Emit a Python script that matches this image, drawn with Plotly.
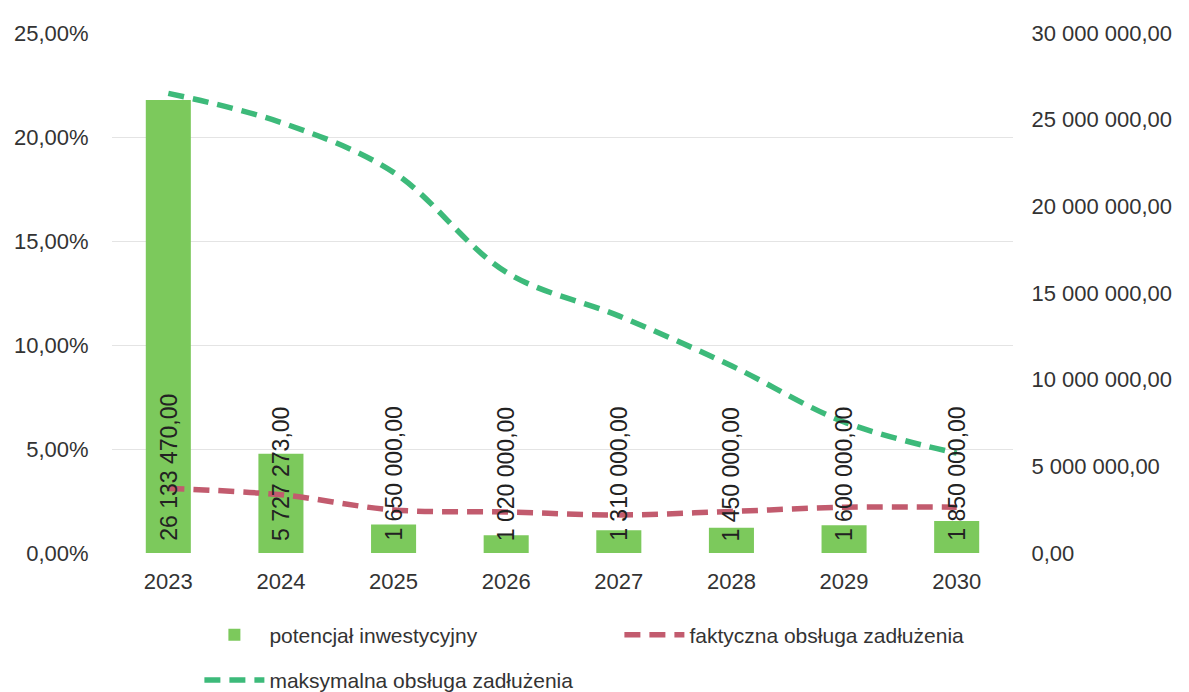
import plotly.graph_objects as go

years = ["2023", "2024", "2025", "2026", "2027", "2028", "2029", "2030"]
potencjal = [26133470, 5727273, 1650000, 1020000, 1310000, 1450000, 1600000, 1850000]
faktyczna = [0.031, 0.028, 0.0207, 0.0197, 0.0183, 0.020, 0.022, 0.022]
maksymalna = [0.221, 0.207, 0.183, 0.135, 0.114, 0.090, 0.063, 0.048]

BAR_C = "#7cc95c"
GREEN_C = "#3dba7a"
RED_C = "#c25b6e"
FONT = "Liberation Sans, Arial, sans-serif"
TXT = "#333333"


def fmt_pl(v):
    return f"{v:,.2f}".replace(",", " ").replace(".", ",")


fig = go.Figure()
fig.add_trace(go.Bar(
    x=years, y=potencjal, name="potencjał inwestycyjny",
    marker=dict(color=BAR_C, line=dict(width=0)), width=0.4, yaxis="y",
    legend="legend",
))
fig.add_trace(go.Scatter(
    x=years, y=faktyczna, name="faktyczna obsługa zadłużenia", mode="lines",
    line=dict(color=RED_C, width=5.5, dash="16px,9px", shape="spline"), yaxis="y2",
    legend="legend",
))
fig.add_trace(go.Scatter(
    x=years, y=maksymalna, name="maksymalna obsługa zadłużenia", mode="lines",
    line=dict(color=GREEN_C, width=5.5, dash="16px,9px", shape="spline"), yaxis="y2",
    legend="legend2",
))

for i, v in enumerate(potencjal):
    fig.add_annotation(
        x=i, y=0, xref="x", yref="y", text=fmt_pl(v), textangle=-90,
        showarrow=False, yanchor="bottom", xanchor="center", yshift=10,
        font=dict(family=FONT, size=23, color="#222222"),
    )

legend_common = dict(
    orientation="h", xanchor="left", yanchor="middle",
    entrywidth=345, entrywidthmode="pixels",
    font=dict(family=FONT, size=21, color=TXT),
    itemwidth=60, traceorder="normal", bgcolor="rgba(0,0,0,0)",
)

fig.update_layout(
    width=1189, height=692,
    margin=dict(l=104, r=184, t=25, b=147, autoexpand=False),
    paper_bgcolor="white", plot_bgcolor="white",
    separators=", ",
    font=dict(family=FONT, size=22, color=TXT),
    showlegend=True,
    legend=dict(x=0.097, y=-0.158, **legend_common),
    legend2=dict(x=0.097, y=-0.245, **legend_common),
    xaxis=dict(
        type="category", range=[-0.5, 7.5], showgrid=False, zeroline=False,
        showline=False, ticks="outside", ticklen=9, tickcolor="rgba(0,0,0,0)",
        tickfont=dict(size=22, color=TXT),
    ),
    yaxis=dict(
        side="right", range=[0, 30000000], dtick=5000000,
        tickformat=",.2f", showgrid=False, zeroline=False, showline=False,
        ticks="outside", ticklen=13, tickcolor="rgba(0,0,0,0)",
        tickfont=dict(size=22, color=TXT),
    ),
    yaxis2=dict(
        side="left", overlaying="y", range=[0, 0.25], dtick=0.05,
        tickformat=".2%", showgrid=True, gridcolor="#e4e4e4", gridwidth=1,
        zeroline=False, showline=False,
        ticks="outside", ticklen=18, tickcolor="rgba(0,0,0,0)",
        tickfont=dict(size=22, color=TXT),
    ),
)

fig.write_html("out.html")
